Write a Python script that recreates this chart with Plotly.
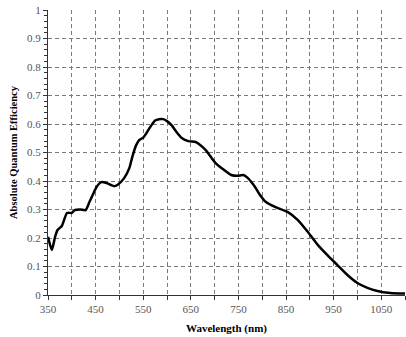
import plotly.graph_objects as go

wavelength = [350, 358, 365, 370, 379, 390, 400, 406, 418, 429, 437, 445, 452, 462, 473, 482, 490, 498, 510, 521, 527, 535, 542, 550, 556, 565, 575, 583, 592, 600, 610, 620, 631, 645, 660, 667, 681, 694, 702, 715, 735, 748, 760, 770, 785, 795, 808, 827, 854, 875, 896, 917, 937, 958, 979, 1000, 1021, 1042, 1069, 1100]
qe = [0.204, 0.158, 0.205, 0.228, 0.242, 0.288, 0.288, 0.298, 0.300, 0.298, 0.326, 0.355, 0.379, 0.396, 0.393, 0.386, 0.382, 0.389, 0.410, 0.446, 0.484, 0.525, 0.544, 0.552, 0.566, 0.590, 0.612, 0.617, 0.617, 0.610, 0.595, 0.572, 0.551, 0.540, 0.537, 0.530, 0.509, 0.480, 0.463, 0.445, 0.421, 0.418, 0.421, 0.410, 0.379, 0.352, 0.326, 0.309, 0.291, 0.263, 0.221, 0.175, 0.140, 0.105, 0.070, 0.042, 0.025, 0.014, 0.007, 0.005]

x_tick_vals = [350, 450, 550, 650, 750, 850, 950, 1050]
y_tick_vals = [0, 0.1, 0.2, 0.3, 0.4, 0.5, 0.6, 0.7, 0.8, 0.9, 1]
y_tick_text = ["0", "0.1", "0.2", "0.3", "0.4", "0.5", "0.6", "0.7", "0.8", "0.9", "1"]

fig = go.Figure()
fig.add_trace(go.Scatter(
    x=wavelength, y=qe, mode="lines",
    line=dict(color="black", width=2.5, shape="spline", smoothing=0.6),
    showlegend=False, hoverinfo="skip",
))

font_family = "Liberation Serif, Times New Roman, serif"
grid_color = "#7a7a7a"
dash = "4px,3px"

fig.update_layout(
    width=406, height=337,
    margin=dict(l=48, r=1, t=10, b=42),
    paper_bgcolor="white", plot_bgcolor="white",
    font=dict(family=font_family, size=11, color="#555"),
    xaxis=dict(
        range=[350, 1100], tickvals=x_tick_vals,
        ticktext=[str(v) for v in x_tick_vals],
        showline=True, linecolor="#333", linewidth=1,
        ticks="outside", ticklen=4, tickcolor="#333",
        showgrid=True, gridcolor=grid_color, griddash=dash, gridwidth=1,
        minor=dict(dtick=50, tick0=350, showgrid=True, gridcolor=grid_color,
                   griddash=dash, gridwidth=1, ticks="outside", ticklen=4,
                   tickcolor="#333"),
        zeroline=False, tickfont=dict(size=11, color="#555"),
        title=dict(text="<b>Wavelength (nm)</b>", font=dict(size=11, color="black"), standoff=10),
    ),
    yaxis=dict(
        range=[0, 1], tickvals=y_tick_vals, ticktext=y_tick_text,
        showline=True, linecolor="#333", linewidth=1,
        ticks="outside", ticklen=4, tickcolor="#333",
        showgrid=True, gridcolor=grid_color, griddash=dash, gridwidth=1,
        minor=dict(dtick=0.02, tick0=0, showgrid=False, ticks="outside", ticklen=3,
                   tickcolor="#333"),
        zeroline=False, tickfont=dict(size=11, color="#555"),
        title=dict(text="<b>Absolute Quantum Efficiency</b>", font=dict(size=10.5, color="black"), standoff=7),
    ),
)

fig.write_html("out.html")
